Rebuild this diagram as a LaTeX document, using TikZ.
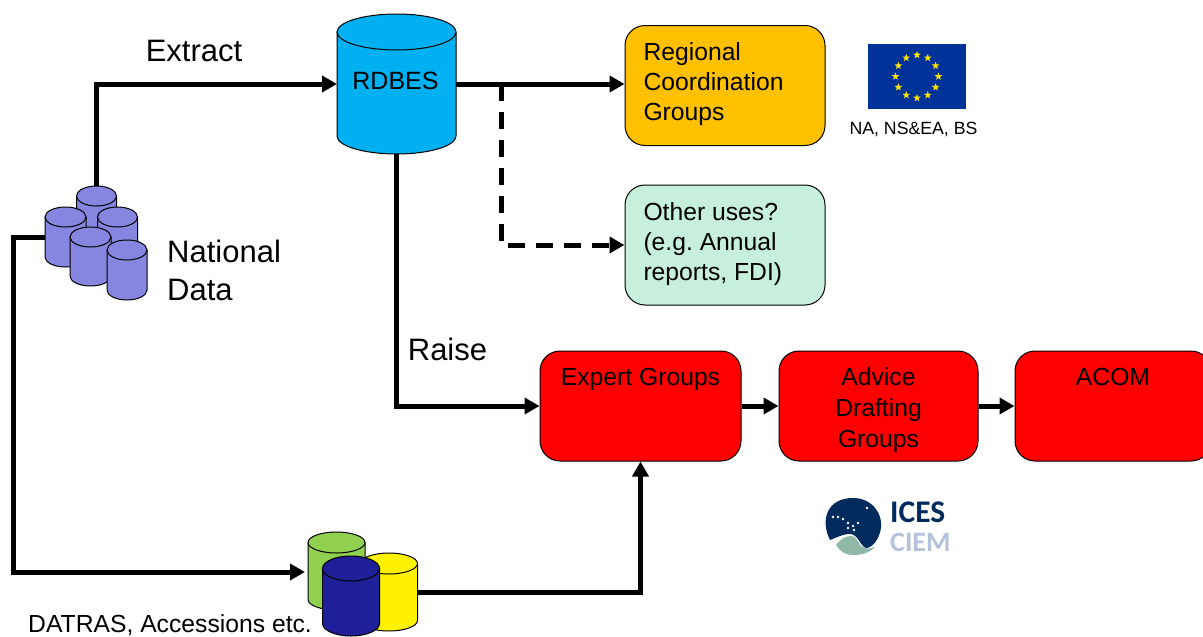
\documentclass[tikz,border=0pt]{standalone}
\usepackage{fontspec}
\setmainfont{Liberation Sans}
\newfontfamily\logofont{Carlito}
\frenchspacing
\usetikzlibrary{arrows.meta,shapes.geometric,calc}
\definecolor{rdbesblue}{HTML}{00B0F0}
\definecolor{amberbox}{HTML}{FFC000}
\definecolor{mintbox}{HTML}{C6EFDC}
\definecolor{natpurple}{HTML}{8686E0}
\definecolor{dgreen}{HTML}{92D050}
\definecolor{dnavy}{HTML}{1F1F99}
\definecolor{euflag}{HTML}{003399}
\definecolor{icesnavy}{HTML}{002B5C}
\definecolor{icesgreen}{HTML}{8FB8A6}
\definecolor{ciemblue}{HTML}{B4C2DC}
\newcommand{\fs}[2][30]{\fontsize{#2}{#1}\selectfont}
\newcommand{\tcell}[3]{\raisebox{\dimexpr#1-6.2pt\relax}[10pt][10pt]{\begin{tabular}{@{}#2@{}}#3\end{tabular}}}
\tikzset{
  x=1pt,y=-1pt,
  flow/.style={line width=5pt,-{Triangle[length=15pt,width=16pt]},black,line join=miter},
  plainflow/.style={flow,dash pattern=on 17pt off 11pt},
  groupbox/.style={draw=black,line width=1pt,rounded corners=20pt,minimum width=#1,minimum height=110pt,fill=red,
    font=\fs[31]{24.7},inner sep=0pt},
  usebox/.style={draw=black,line width=1pt,rounded corners=20pt,minimum width=200pt,minimum height=120pt,
    inner sep=0pt,font=\fs{24.7}},
  bigtext/.style={font=\fs[38]{31},inner sep=0pt,align=left},
  smalltext/.style={font=\fs{24.7},inner sep=0pt}
}
% name, cx, top, bottom, rx, ry, fill, line width
\newcommand{\cyl}[8]{%
  \filldraw[fill=#7,draw=black,line width=#8] (#2-#5,#3+#6) -- (#2-#5,#4-#6) arc[start angle=180,end angle=0,x radius=#5,y radius=#6]
     -- (#2+#5,#3+#6) -- cycle;
  \filldraw[fill=#7,draw=black,line width=#8] (#2,#3+#6) ellipse[x radius=#5,y radius=#6];
  \coordinate (#1-n) at (#2,#3);
  \coordinate (#1-w) at (#2-#5,{(#3+#4)/2});
  \coordinate (#1-e) at (#2+#5,{(#3+#4)/2});
  \coordinate (#1-s) at (#2,#4);
}
\begin{document}
\begin{tikzpicture}
\useasboundingbox (0,0) rectangle (1203,637);
\fill[white] (0,0) rectangle (1203,637);

% RDBES
\cyl{rdbes}{396.5}{14}{154}{59.5}{18}{rdbesblue}{1pt}
\node[font=\fs{25},inner sep=0pt] (rdbeslabel) at (395.5,81) {RDBES};

% boxes
\node[usebox,fill=amberbox] (rcg) at (725,85.5) {\tcell{1pt}{l}{\makebox[163pt][l]{Regional}\\Coordination\\Groups}};
\node[usebox,fill=mintbox] (other) at (725,245) {\tcell{0.5pt}{l}{\makebox[163pt][l]{Other uses?}\\(e.g. Annual\\reports, FDI)}};
\node[groupbox=201pt] (expert) at (640.5,406) {\tcell{-4pt}{c}{Expert Groups\\ ~\\ ~}};
\node[groupbox=199pt] (advice) at (878.5,406) {\tcell{-4pt}{c}{Advice\\Drafting\\Groups}};
\node[groupbox=196pt] (acom) at (1113,406) {\tcell{-4pt}{c}{ACOM\\ ~\\ ~}};

% National data cylinders
\cyl{n1}{96.5}{186}{246}{20}{10}{natpurple}{1pt}
\cyl{n2}{117.5}{207}{267}{20}{10}{natpurple}{1pt}
\cyl{n3}{65.5}{207}{267}{20.5}{10}{natpurple}{1pt}
\cyl{n4}{90.5}{227}{286}{20.5}{10}{natpurple}{1pt}
\cyl{n5}{127}{240}{300}{20}{10}{natpurple}{1pt}

% lower cylinders
\cyl{d1}{336.5}{532}{610}{28.5}{10.5}{dgreen}{1pt}
\cyl{d2}{389}{553}{631}{28.5}{10.5}{yellow}{1pt}
\cyl{d3}{351}{556}{636}{28.5}{12.5}{dnavy}{1pt}

% arrows
\coordinate (branch) at (501,84);
\coordinate (lowW) at (305,572);
\draw[flow] (n1-n) -- (n1-n |- rdbes-w) -- (rdbes-w);
\draw[flow] (rdbes-e) -- (rcg.west |- rdbes-e);
\coordinate (otherT) at (branch |- other.west);
\draw[plainflow] (branch) -- (otherT) -- (other.west);
\draw[flow] (rdbes-s) |- (expert.west);
\draw[flow] (expert.east) -- (advice.west);
\draw[flow] (advice.east) -- (acom.west);
\draw[flow] (n3-w) -- (13,237) -- (13,572) -- (lowW);
\draw[flow] (d2-e) -| (expert.south);

% texts
\node[bigtext,anchor=center] (extract) at (194,51) {Extract};
\node[bigtext,anchor=west] (natdata) at (167,270) {National\\Data};
\node[bigtext,anchor=center] (raise) at (447.5,349) {Raise};
\node[smalltext,anchor=west] (datras) at (28,625) {DATRAS, Accessions etc.};

% EU flag
\fill[euflag] (868,44) rectangle (966,109);
\foreach \i in {1,...,12}{
  \node[star,star points=5,star point ratio=2.4,fill=yellow!85!orange,inner sep=0pt,minimum size=8pt]
    (eustar\i) at ($(917,76.5)+({cos(\i*30)*21.5},{sin(\i*30)*21.5})$) {};
}
\node[font=\fs{17.7},inner sep=0pt] (eucaption) at (913.5,129) {NA, NS\&EA, BS};

% ICES logo
\fill[icesnavy] (830,540) .. controls (820,520) and (827,498) .. (853,498)
  .. controls (873,498) and (883,515) .. (881,528)
  .. controls (879,540) and (872,548) .. (866,548)
  .. controls (860,546) and (858,534) .. (850,534)
  .. controls (842,534) and (836,538) .. (830,540) -- cycle;
\fill[icesgreen] (836,545) .. controls (841,538) and (847,536) .. (851,536)
  .. controls (858,536) and (858,546) .. (864,548)
  .. controls (868,549) and (872,548) .. (875,547)
  .. controls (868,554) and (860,555) .. (852,555)
  .. controls (845,555) and (840,551) .. (836,545) -- cycle;
\foreach \px/\py in {833/517,838/517,843/519,848/523,853/526,858/523,848/528,854/530,867/508}{
  \fill[white] (\px,\py) circle[radius=1.3];
}
\node[font=\logofont\bfseries\fs{31.5},text=icesnavy,inner sep=0pt,anchor=west] (ices) at (890,512) {ICES};
\node[font=\logofont\bfseries\fs{28},text=ciemblue,inner sep=0pt,anchor=west] (ciem) at (890,542) {CIEM};
\end{tikzpicture}
\end{document}
